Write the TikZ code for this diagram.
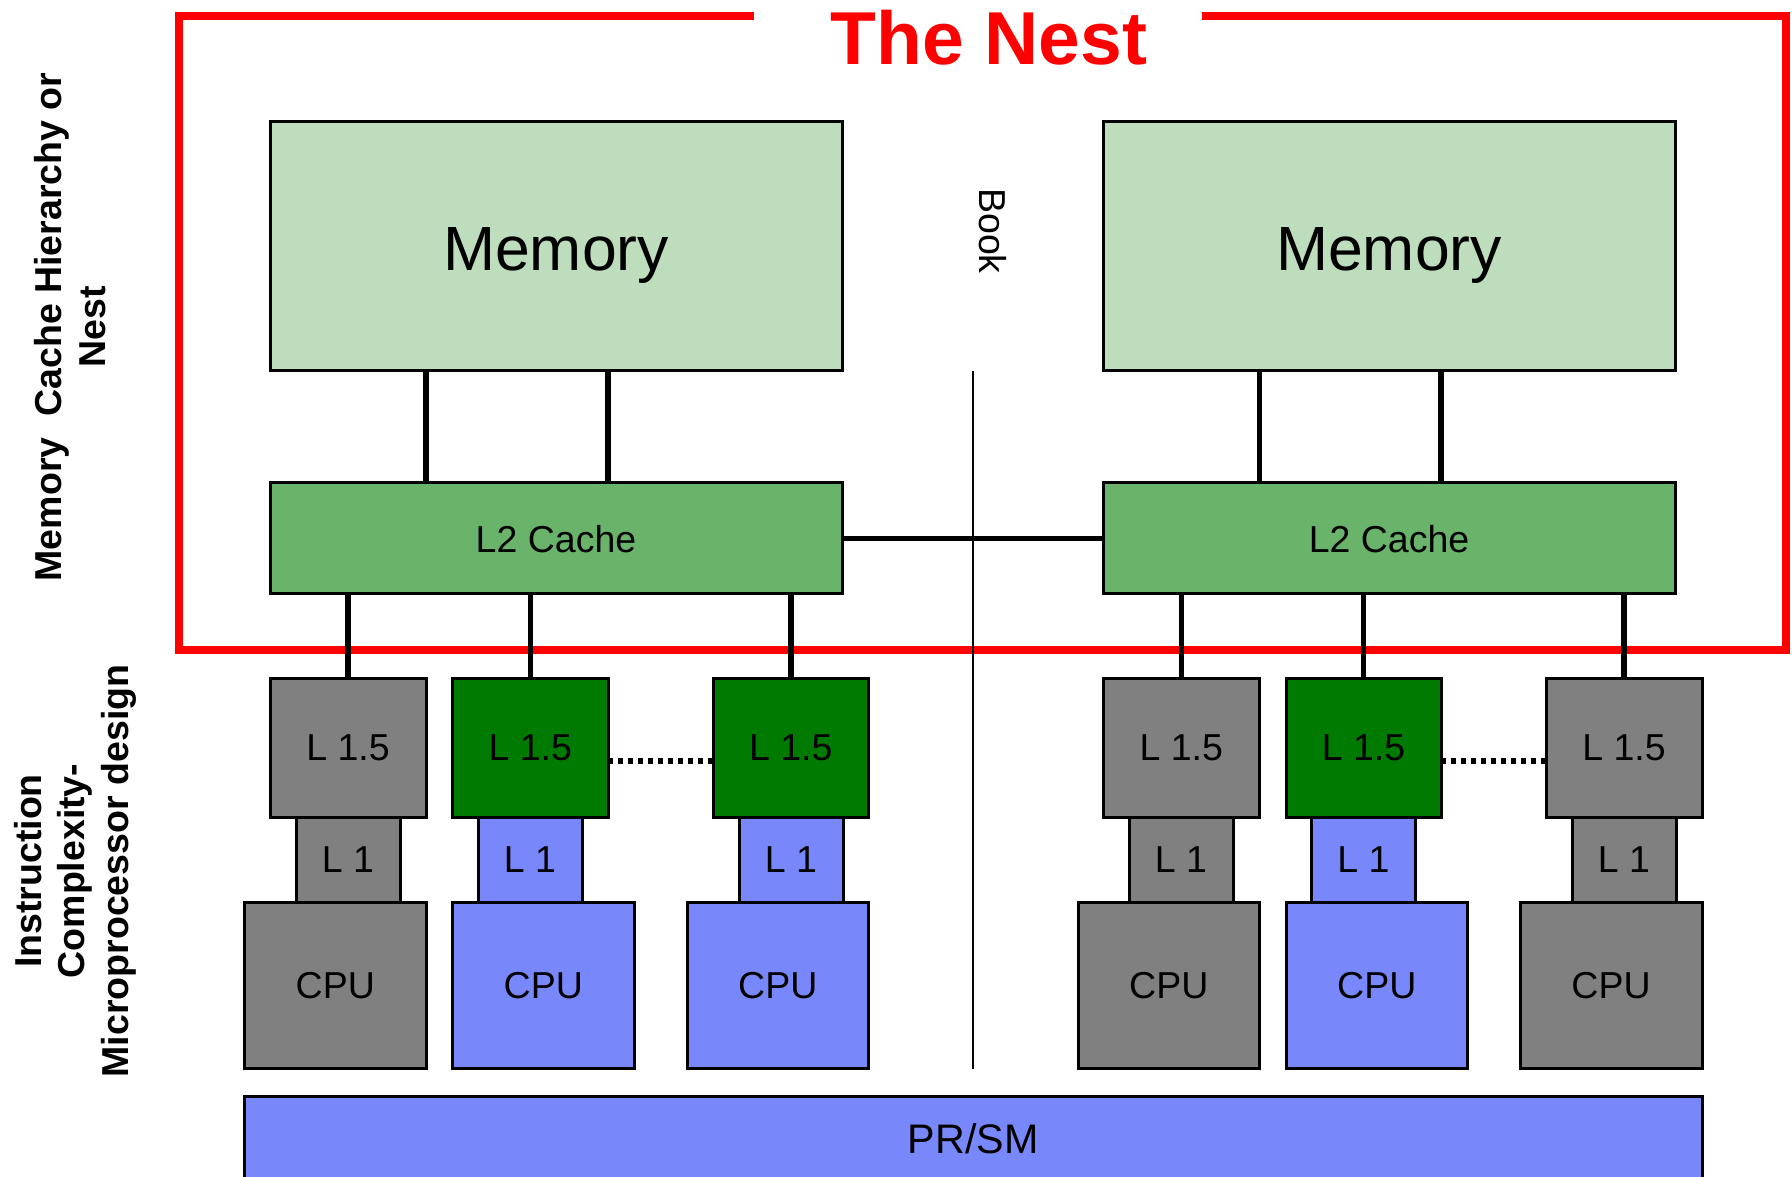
\documentclass[tikz,border=0pt]{standalone}
\usepackage{fontspec}
\setmainfont{Liberation Sans}
\setsansfont{Liberation Sans}
\definecolor{memgreen}{RGB}{189,221,189}
\definecolor{ltwogreen}{RGB}{105,179,107}
\definecolor{dkgreen}{RGB}{0,122,0}
\definecolor{cgray}{RGB}{128,128,128}
\definecolor{cblue}{RGB}{120,136,250}
\newcommand\bx[7]{\node[box,#6,minimum width={(#4-#2)*0.4pt},minimum height={(#5-#3)*0.4pt}] (#1) at ({(#2+#4)/2},{(#3+#5)/2}) {#7};}
\tikzset{
  box/.style={draw=black,line width=1.2pt,inner sep=0pt,outer sep=0pt,text depth=0pt,font=\fontsize{15}{18}\selectfont},
  memfont/.style={font=\fontsize{25}{30}\selectfont},
  conn/.style={draw=black,line width=2.2pt},
  dotline/.style={draw=black,line width=2.2pt,dash pattern=on 2pt off 2pt},
  bookline/.style={draw=black,line width=0.8pt},
  redframe/.style={draw=red,line width=3.2pt,line join=miter},
  sidelab/.style={rotate=90,align=center,inner sep=0pt,font=\bfseries\fontsize{15}{17.4}\selectfont},
}
\begin{document}
\begin{tikzpicture}[x=0.4pt,y=-0.4pt]
\useasboundingbox (0,0) rectangle (1792,1177);
% red frame
\draw[redframe] (754,16) -- (179,16) -- (179,650) -- (1786,650) -- (1786,16) -- (1202,16);
\node[text=red,inner sep=0pt,text depth=0pt,font=\bfseries\fontsize{30}{36}\selectfont] (title) at (989,37) {The Nest};
% side labels
\node[sidelab] (lab1) at (70,327) {Memory\ \ Cache Hierarchy or\\Nest};
\node[sidelab] (lab2) at (75,871) {Instruction\\Complexity-\\Microprocessor design};
\node[rotate=-90,inner sep=0pt,text depth=0pt,font=\fontsize{15}{18}\selectfont] (booklab) at (993,231) {Book};
% book line
\coordinate (booktop) at (972.6,371);
\coordinate (bookbot) at (972.6,1068.6);
\draw[bookline] (booktop) -- (bookbot);
% memory and L2
\bx{mem1}{270}{122}{842}{371}{fill=memgreen,memfont}{\raisebox{-2pt}{Memory}}
\bx{mem2}{1103}{122}{1675}{371}{fill=memgreen,memfont}{\raisebox{-2pt}{Memory}}
\bx{l2a}{270}{483}{842}{594}{fill=ltwogreen}{L2 Cache}
\bx{l2b}{1103}{483}{1675}{594}{fill=ltwogreen}{L2 Cache}
% L1.5
\bx{l15a}{270}{679}{426}{817}{fill=cgray}{L 1.5}
\bx{l15b}{452.6}{679}{608}{817}{fill=dkgreen}{L 1.5}
\bx{l15c}{713}{679}{868.6}{817}{fill=dkgreen}{L 1.5}
\bx{l15d}{1103}{679}{1259.5}{817}{fill=cgray}{L 1.5}
\bx{l15e}{1286}{679}{1441}{817}{fill=dkgreen}{L 1.5}
\bx{l15f}{1546}{679}{1702}{817}{fill=cgray}{L 1.5}
% L1
\bx{l1a}{296}{817}{400}{902}{fill=cgray}{L 1}
\bx{l1b}{478}{817}{582}{902}{fill=cblue}{L 1}
\bx{l1c}{739}{817}{843}{902}{fill=cblue}{L 1}
\bx{l1d}{1129}{817}{1233}{902}{fill=cgray}{L 1}
\bx{l1e}{1311.5}{817}{1415.5}{902}{fill=cblue}{L 1}
\bx{l1f}{1572}{817}{1676}{902}{fill=cgray}{L 1}
% CPU
\bx{cpua}{244.6}{902}{426}{1068.6}{fill=cgray}{CPU}
\bx{cpub}{452.6}{902}{634}{1068.6}{fill=cblue}{CPU}
\bx{cpuc}{687}{902}{868.6}{1068.6}{fill=cblue}{CPU}
\bx{cpud}{1078}{902}{1259.5}{1068.6}{fill=cgray}{CPU}
\bx{cpue}{1286}{902}{1467.5}{1068.6}{fill=cblue}{CPU}
\bx{cpuf}{1520}{902}{1702}{1068.6}{fill=cgray}{CPU}
% PR/SM
\bx{prsm}{244.6}{1096}{1702}{1181}{fill=cblue,font=\fontsize{16.5}{20}\selectfont}{PR/SM}
% connectors memory - L2
\draw[conn] (mem1.south -| l15a.east) -- (l2a.north -| l15a.east);
\draw[conn] (mem1.south -| l15b.east) -- (l2a.north -| l15b.east);
\draw[conn] (mem2.south -| l15d.east) -- (l2b.north -| l15d.east);
\draw[conn] (mem2.south -| l15e.east) -- (l2b.north -| l15e.east);
% L2 - L2
\draw[conn] (l2a.east) -- (l2b.west);
% L2 - L1.5
\foreach \n in {l15a,l15b,l15c}{\draw[conn] (\n.north) -- (\n.north |- l2a.south);}
\foreach \n in {l15d,l15e,l15f}{\draw[conn] (\n.north) -- (\n.north |- l2b.south);}
% dotted
\draw[dotline] ([yshift=-5.2pt]l15b.east) -- ([yshift=-5.2pt]l15c.west);
\draw[dotline] ([yshift=-5.2pt]l15e.east) -- ([yshift=-5.2pt]l15f.west);
\end{tikzpicture}
\end{document}
